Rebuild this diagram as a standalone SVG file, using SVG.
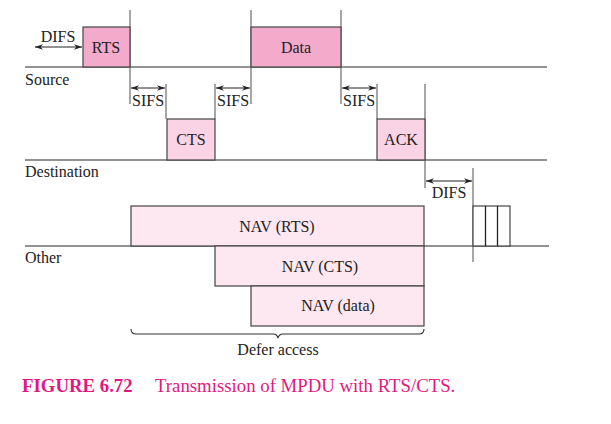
<svg xmlns="http://www.w3.org/2000/svg" width="611" height="424" viewBox="0 0 611 424">
<style>
text{font-family:"Liberation Serif","Times New Roman",serif;fill:#222}
.t{font-size:16px}
.lbl{font-size:16px}
.c{text-anchor:middle}
.axis{stroke:#6e6e6e;stroke-width:1.3;fill:none}
.v{stroke:#777;stroke-width:1.3;fill:none}
.arr{stroke:#222;stroke-width:1;fill:none;marker-start:url(#ah);marker-end:url(#ah)}
.box{stroke:#444;stroke-width:1.2}
.dark{fill:#f3aacb}
.mid{fill:#fad4e5}
.light{fill:#fde7f0}
.cap{font-size:18.8px;fill:#e2187f}
</style>
<defs>
<marker id="ah" viewBox="0 0 10 10" refX="10" refY="5" markerWidth="8" markerHeight="8" markerUnits="userSpaceOnUse" orient="auto-start-reverse">
<path d="M0,1.5 L10,5 L0,8.5 L3,5 Z" fill="#222"/>
</marker>
</defs>

<g id="timelines">
<line class="axis" x1="25" y1="67" x2="547" y2="67"/>
<line class="axis" x1="25" y1="160" x2="547" y2="160"/>
<line class="axis" x1="25" y1="246" x2="549" y2="246"/>
<text class="lbl" x="25" y="85">Source</text>
<text class="lbl" x="25" y="177">Destination</text>
<text class="lbl" x="25" y="263">Other</text>
</g>

<g id="nav-rts"><rect class="box light" x="131" y="206" width="293" height="40"/><text class="t c" x="277" y="232">NAV (RTS)</text></g>
<g id="nav-cts"><rect class="box light" x="215" y="246" width="209" height="40"/><text class="t c" x="320" y="272">NAV (CTS)</text></g>
<g id="nav-data"><rect class="box light" x="251" y="286" width="173" height="40"/><text class="t c" x="338" y="311">NAV (data)</text></g>

<g id="connectors">
<line class="v" x1="130" y1="10" x2="130" y2="104"/>
<line class="v" x1="166" y1="84" x2="166" y2="119"/>
<line class="v" x1="215" y1="84" x2="215" y2="119"/>
<line class="v" x1="251" y1="10" x2="251" y2="104"/>
<line class="v" x1="341" y1="10" x2="341" y2="104"/>
<line class="v" x1="377" y1="84" x2="377" y2="119"/>
<line class="v" x1="425" y1="84" x2="425" y2="188"/>
<line class="v" x1="473" y1="168" x2="473" y2="262"/>
<line class="arr" x1="35" y1="47" x2="82" y2="47"/>
<line class="arr" x1="131" y1="88" x2="165" y2="88"/>
<line class="arr" x1="216" y1="88" x2="250" y2="88"/>
<line class="arr" x1="342" y1="88" x2="376" y2="88"/>
<line class="arr" x1="426" y1="181" x2="472" y2="181"/>
<path d="M131,329 Q131,334 136,334 L273,334 Q277,334 278,338 Q279,334 283,334 L419,334 Q424,334 424,329" fill="none" stroke="#333" stroke-width="1.1"/>
</g>

<g id="rts"><rect class="box dark" x="83" y="27" width="47" height="40"/><text class="t c" x="106" y="53">RTS</text></g>
<g id="data"><rect class="box dark" x="251" y="27" width="90" height="40"/><text class="t c" x="296" y="53">Data</text></g>
<g id="cts"><rect class="box mid" x="167" y="119" width="48" height="41"/><text class="t c" x="191" y="145">CTS</text></g>
<g id="ack"><rect class="box mid" x="377" y="119" width="48" height="41"/><text class="t c" x="401" y="145">ACK</text></g>
<g id="slots">
<rect x="473" y="206" width="37" height="40" fill="#fff" stroke="#444" stroke-width="1.2"/>
<line x1="485.5" y1="206" x2="485.5" y2="246" stroke="#222" stroke-width="1.3"/>
<line x1="497.5" y1="206" x2="497.5" y2="246" stroke="#222" stroke-width="1.3"/>
</g>

<g id="labels">
<text class="t c" x="58" y="42">DIFS</text>
<text class="t" x="132" y="106">SIFS</text>
<text class="t" x="217" y="106">SIFS</text>
<text class="t" x="343" y="106">SIFS</text>
<text class="t c" x="449" y="198">DIFS</text>
<text class="t c" x="278" y="355">Defer access</text>
</g>

<g id="caption">
<text class="cap" x="22" y="392"><tspan font-weight="bold" fill="#e2187f">FIGURE 6.72</tspan><tspan x="155" fill="#e2187f">Transmission of MPDU with RTS/CTS.</tspan></text>
</g>
</svg>
